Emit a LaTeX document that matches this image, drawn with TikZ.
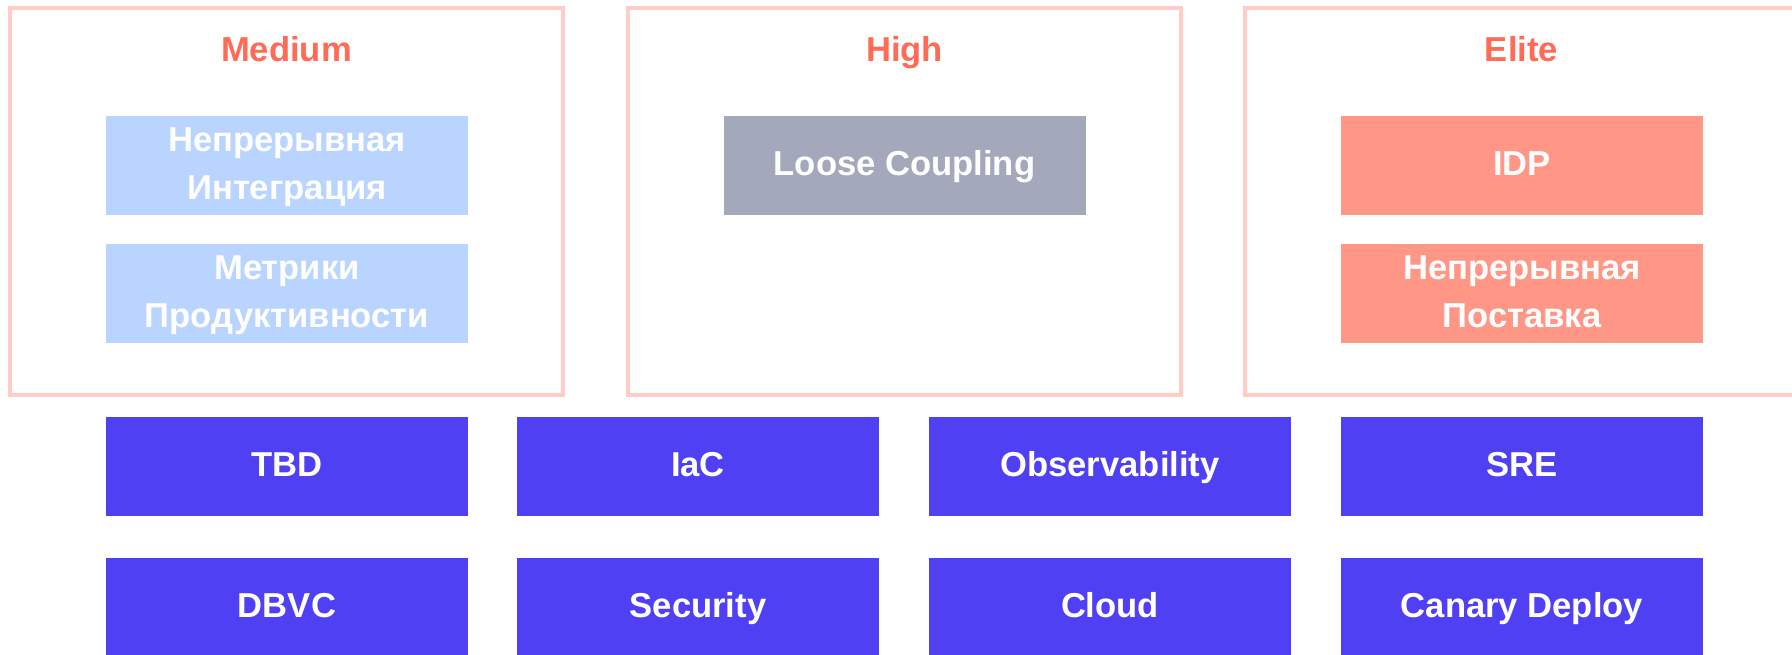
\documentclass[tikz,border=0pt]{standalone}
\usepackage{fontspec}
\setmainfont{Liberation Sans}
\definecolor{framepink}{HTML}{FFCCC7}
\definecolor{titlered}{HTML}{FF6B55}
\definecolor{lightblue}{HTML}{B9D4FE}
\definecolor{slategray}{HTML}{A3A9BB}
\definecolor{salmon}{HTML}{FF9686}
\definecolor{indigo}{HTML}{5040F3}
\begin{document}
\begin{tikzpicture}[x=1pt,y=1pt,
    level/.style={draw=framepink, line width=4pt, minimum width=553pt, minimum height=386.5pt, inner sep=0pt},
    title/.style={text=titlered, font=\bfseries\fontsize{34.6}{40}\selectfont, anchor=base},
    tile/.style={minimum width=362pt, minimum height=99pt, inner sep=0pt, text=white, font=\bfseries\fontsize{34.6}{48}\selectfont, align=center},
    oneline/.style={tile, text height=20.5pt, text depth=0pt},
    twoline/.style={tile, text depth=4pt}]
            \useasboundingbox (0,0) rectangle (1792,654);
            \clip (0,0) rectangle (1792,654);

            \node[level] (medium) at (286.5,452.25) {};
            \node[level] (high) at (904.5,452.25) {};
            \node[level] (elite) at (1521.5,452.25) {};

            \node[title] (mediumtitle) at (286.5,592.3) {Medium};
            \node[title] (hightitle) at (904.5,592.3) {High};
            \node[title] (elitetitle) at (1521.5,592.3) {Elite};

            \node[twoline, fill=lightblue] (ci) at (287,488.5) {Непрерывная\\Интеграция};
            \node[twoline, fill=lightblue] (metrics) at (287,360.5) {Метрики\\Продуктивности};
            \node[oneline, fill=slategray] (coupling) at (904.5,488.5) {Loose Coupling};
            \node[oneline, fill=salmon] (idp) at (1522,488.5) {IDP};
            \node[twoline, fill=salmon] (cd) at (1522,360.5) {Непрерывная\\Поставка};

            \node[oneline, fill=indigo] (tbd) at (287,187.5) {TBD};
            \node[oneline, fill=indigo] (iac) at (698,187.5) {IaC};
            \node[oneline, fill=indigo] (obs) at (1110,187.5) {Observability};
            \node[oneline, fill=indigo] (sre) at (1522,187.5) {SRE};

            \node[oneline, fill=indigo] (dbvc) at (287,46.5) {DBVC};
            \node[oneline, fill=indigo] (security) at (698,46.5) {Security};
            \node[oneline, fill=indigo] (cloud) at (1110,46.5) {Cloud};
            \node[oneline, fill=indigo] (canary) at (1522,46.5) {Canary Deploy};
        \end{tikzpicture}
\end{document}
